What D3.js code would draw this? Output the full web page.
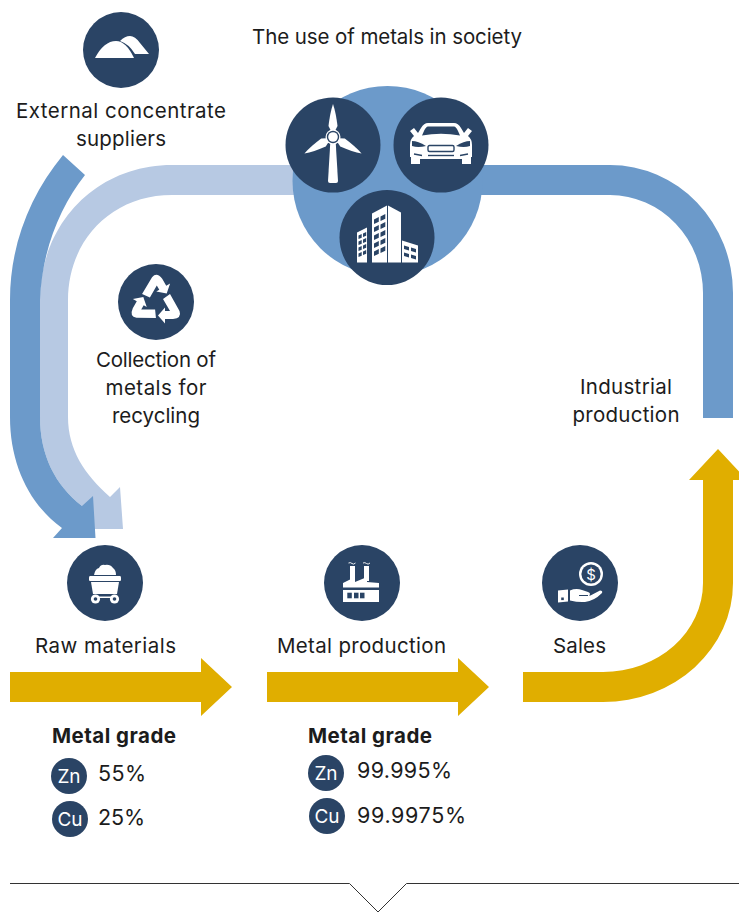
<!DOCTYPE html>
<html>
<head>
<meta charset="utf-8">
<style>
html,body{margin:0;padding:0;background:#fff;overflow:hidden}
svg{display:block}
text{font-family:Inter,"Open Sans",sans-serif;fill:#1c1c1c}
</style>
<script src="https://cdn.jsdelivr.net/npm/d3@7"></script>
</head>
<body>
<svg id="c" width="739" height="912"></svg>
<script>
// ---- content ----
const title = "The use of metals in society";
const stepLabels = [
  ["External concentrate","suppliers"],
  ["Collection of","metals for","recycling"],
  ["Industrial","production"],
  ["Raw materials"],
  ["Metal production"],
  ["Sales"]
];
const gradeHeading = "Metal grade";
const elements = ["Zn","Cu"];
const rawGrades = ["55%","25%"];
const metalGrades = ["99.995%","99.9975%"];

// ---- style ----
const DARK="#2a4465", BLUE="#6c9aca", LIGHT="#b7c9e3", GOLD="#e0ae00";
const svg=d3.select("#c");

// ---- flows ----
const flows=[
 [LIGHT,"M300 165H172C96 165 40 224 40 300V417C40 455 55 485 82 506L93 529H123L120 487L110 497C85 475 68 450 68 417V300C68 240 112 195 172 195H300Z"],
 [BLUE,"M63 155C30 195 10 245 10 300V417C10 465 30 505 62 528L53 538H95.5L93 496L82 506C55 485 40 455 40 417V300C42 250 60 207 85 175Z"],
 [BLUE,"M470 165H610A123 128 0 0 1 733 293V418H703V293A93 98 0 0 0 610 195H470Z"],
 [GOLD,"M10 672H201V658L232 687L201 716V702H10Z"],
 [GOLD,"M267 672H458V658L489 687L458 716V702H267Z"],
 [GOLD,"M523 672H603A100 89 0 0 0 703 583V480H689L718 449L747 480H733V583A130 119 0 0 1 603 702H523Z"]
];
svg.selectAll("path.flow").data(flows).join("path").attr("class","flow")
  .attr("fill",d=>d[0]).attr("d",d=>d[1]);

// ---- central hub ----
svg.append("circle").attr("cx",387.5).attr("cy",181).attr("r",95).attr("fill",BLUE);

// ---- icons ----
function disc(x,y,r){
  const g=svg.append("g").attr("transform",`translate(${x},${y})`);
  g.append("circle").attr("r",r).attr("fill",DARK);
  return g;
}
const w=(g,d)=>g.append("path").attr("d",d).attr("fill","#fff");
const k=(g,d)=>g.append("path").attr("d",d).attr("fill",DARK);

// mountains
let g=disc(121,50,38);
w(g,"M-1 -9Q4 -14 9 -14Q14 -14 19 -7L28 4H14Q8 -6 -1 -9Z");
w(g,"M-26 8Q-17 -9 -5 -9Q5 -9 13 8Z");

// turbine
g=disc(333,145,47.5);
w(g,"M-2.5 -6H2.5L5 36Q5 38 3 38H-3Q-5 38 -5 36Z");
const tb=g.append("g").attr("transform","translate(0,-8)");
[0,120,240].forEach(a=>tb.append("path").attr("d","M0 -33Q3 -24 4.5 -11L2 -6H-2L-4.5 -11Q-3 -24 0 -33Z").attr("fill","#fff").attr("transform",`rotate(${a})`));
tb.append("circle").attr("r",7.5).attr("fill","#fff");
tb.append("circle").attr("r",6.2).attr("fill",DARK);
tb.append("circle").attr("r",4.8).attr("fill","#fff");

// car
g=disc(441,145,47.5);
w(g,"M-13 -22H13Q17 -22 20 -17L23 -12L27 -17L31 -14L27 -9Q31 -6 31 0V12H30V19H21V14H-21V19H-30V12H-31V0Q-31 -6 -27 -9L-31 -14L-27 -17L-23 -12L-20 -17Q-17 -22 -13 -22Z");
k(g,"M-13 -18.5H13Q15 -18.5 17 -14L19 -9.5Q0 -13 -19 -9.5L-17 -14Q-15 -18.5 -13 -18.5Z");
k(g,"M-29 -4Q-23 -4 -15 1Q-23 3 -29 1Z");
k(g,"M29 -4Q23 -4 15 1Q23 3 29 1Z");
g.append("rect").attr("x",-13).attr("y",0.5).attr("width",26).attr("height",6).attr("rx",1.5)
  .attr("fill","none").attr("stroke",DARK).attr("stroke-width",1.4);
g.append("path").attr("d","M-13 10.5H13").attr("stroke",DARK).attr("stroke-width",1.4);
g.append("path").attr("d","M-27 9L-19 10.5M27 9L19 10.5").attr("stroke",DARK).attr("stroke-width",1.4);

// building
g=disc(387,237.5,47.5);
w(g,"M-30 -5L-20 -10V25H-30Z");
w(g,"M-15 -24L0 -32V25H-15Z");
w(g,"M1 -32L14 -25V25H1Z");
w(g,"M15 3L31 8V25H15Z");
const win=(x,y,wd,h,sl)=>k(g,`M${x} ${y}l${wd} ${sl}v${h}l${-wd} ${-sl}Z`);
d3.range(2).forEach(c=>d3.range(5).forEach(r=>win(-13+c*6.5,-18-c*3+r*8,4.8,4.6,-2.4)));
d3.range(2).forEach(c=>d3.range(4).forEach(r=>win(-28.5+c*4.5,-2-c*2+r*6,3.2,3.6,-1.4)));
d3.range(2).forEach(c=>d3.range(2).forEach(r=>win(17+c*7,8+c*2+r*7,5,3.4,1.5)));

// recycling
g=disc(156,302,38);
[0,120,240].forEach(a=>g.append("path")
  .attr("d","M14 -8L23.5 9Q26 16 17 17H9V21.5L2 13.5L9 5.5V9H14L7 -3Z")
  .attr("fill","#fff").attr("transform",`rotate(${a})`));

// cart
g=disc(105,583,38);
w(g,"M-11 -8Q-10 -14 -6 -15Q-4 -19 0 -18Q5 -19 8 -15Q11 -13 11 -8Z");
w(g,"M-15 -7H15Q16 -7 16 -5.5V-3.5Q16 -2 15 -2H-15Q-16 -2 -16 -3.5V-5.5Q-16 -7 -15 -7Z");
w(g,"M-14 -1H14L12 11H-12Z");
w(g,"M-9 13.5H9V15H-9Z");
[-9.5,9.5].forEach(x=>{
  g.append("circle").attr("cx",x).attr("cy",16).attr("r",4.6).attr("fill","#fff");
  g.append("circle").attr("cx",x).attr("cy",16).attr("r",1.8).attr("fill",DARK);
});

// factory
g=disc(362,583,38);
w(g,"M-19 7H17V19H-19Z");
w(g,"M-19 4.6V0L-7 -6V-1L5 -6V-1L17 0V4.6Z");
w(g,"M-12 -17H-7V-2H-12Z");
w(g,"M2 -17H7V-2H2Z");
[-14.7,-8,-2].forEach(x=>k(g,`M${x} 9.7h4.5v5.6h-4.5Z`));
g.append("path").attr("d","M-13.5 -20q2 -1 3.5 .5t3.5 -.5M1 -20q2 -1 3.5 .5t3.5 -.5")
 .attr("fill","none").attr("stroke","#fff").attr("stroke-width",.9);

// sales
g=disc(580,583,38);
g.append("circle").attr("cx",11).attr("cy",-9).attr("r",12).attr("fill","#fff");
g.append("circle").attr("cx",11).attr("cy",-9).attr("r",9.6).attr("fill",DARK);
g.append("text").attr("x",11).attr("y",-3.5).attr("text-anchor","middle").attr("font-size",15).style("fill","#fff").text("$");
w(g,"M-22 7.5L-12 6.5V18.5L-22 19.5Z");
k(g,"M-18.8 14.5h2.6v2.6h-2.6Z");
w(g,"M-10 7.5Q-4 5 2 7L8 9Q11.5 10.5 9 12.5L10.5 12.5L20 7.5Q23 7.5 22 10Q14 18 5 19Q-2 19.5 -10 17.5Z");
g.append("path").attr("d","M-1 12.5H8").attr("stroke",DARK).attr("stroke-width",1).attr("fill","none");

// ---- text ----
const textAt=(x,y,s,size,weight,anchor,len)=>{
  const t=svg.append("text")
  .attr("x",x).attr("y",y).attr("font-size",size).attr("font-weight",weight||400)
  .attr("text-anchor",anchor||"middle").text(s);
  if(len) t.attr("textLength",len).attr("lengthAdjust","spacing");
  return t;
};
const FS=20.5;
textAt(387,44,title,FS,400,"middle",270);
const labelAnchors=[[121,118],[156,367],[626,394],[105.5,653],[361.5,653],[579.5,653]];
const labelLengths=[[210,90],[120,101,88],[92,107],[141],[169],[53]];
stepLabels.forEach((lines,i)=>lines.forEach((s,j)=>
  textAt(labelAnchors[i][0],labelAnchors[i][1]+j*28,s,FS,400,"middle",labelLengths[i][j])));

// ---- metal grades ----
const panels=[
 {head:[52,743],vals:rawGrades,circ:[[69,776],[70,819]],val:[[98,781],[98,825]],len:[48,47]},
 {head:[308,743],vals:metalGrades,circ:[[326,773],[327,816]],val:[[357,778],[357,823]],len:[95,109]}
];
panels.forEach(p=>{
  textAt(p.head[0],p.head[1],gradeHeading,20.5,700,"start",124);
  elements.forEach((el,i)=>{
    svg.append("circle").attr("cx",p.circ[i][0]).attr("cy",p.circ[i][1]).attr("r",18).attr("fill",DARK);
    textAt(p.circ[i][0],p.circ[i][1]+6.5,el,19).style("fill","#fff");
    textAt(p.val[i][0],p.val[i][1],p.vals[i],21.5,400,"start",p.len[i]);
  });
});

// ---- bottom rule ----
svg.append("path").attr("d","M10 883.5H349.5L378 912L406.5 883.5H739")
  .attr("fill","none").attr("stroke","#333").attr("stroke-width",1);
</script>
</body>
</html>
